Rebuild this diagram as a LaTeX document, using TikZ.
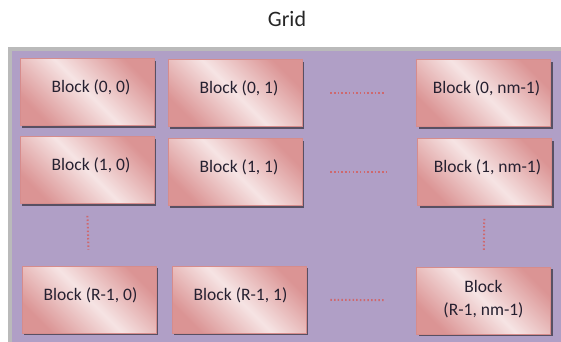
\documentclass[tikz,border=0pt]{standalone}
\usepackage{fontspec}
\setmainfont{Carlito}
\usepackage{tikz}
\usetikzlibrary{shadows}
\usepackage{xcolor}

\definecolor{gridfill}{RGB}{176,159,198}
\definecolor{gridedge}{RGB}{186,186,186}
\definecolor{blockdark}{RGB}{219,148,148}
\definecolor{blocklight}{RGB}{246,228,228}
\definecolor{blockline}{RGB}{214,140,140}
\definecolor{blocktext}{RGB}{38,32,48}
\definecolor{dotred}{RGB}{206,104,110}

\begin{document}
\begin{tikzpicture}[x=1pt,y=1pt,font=\fontsize{17.5}{20}\selectfont,
  block/.style={draw=blockline,line width=0.6pt,
    top color=blockdark,bottom color=blockdark,middle color=blocklight,shading angle=-45,
    minimum width=134pt,minimum height=67pt,inner sep=2pt,text depth=11pt,
    align=center,text=blocktext,
    drop shadow={shadow xshift=2pt,shadow yshift=-2pt,fill=black!55!gridfill,opacity=0.9}},
  dots/.style={dotred,line width=2pt,dash pattern=on 1.5pt off 2.2pt}]
\clip (0,0) rectangle (561,341);
% title and the grid frame
\node[font=\fontsize{22}{26}\selectfont,text=black!85] (title) at (287,322) {Grid};
\filldraw[fill=gridfill,draw=gridedge,line width=4pt] (10,292) rectangle (600,-20);
% row 0
\node[block] (b00) at (87,249) {\hspace{8pt}Block (0, 0)};
\node[block] (b01) at (235,248) {\hspace{8pt}Block (0, 1)};
\node[block] (b0n) at (483.5,248) {\hspace{6pt}Block (0, nm-1)};
% row 1
\node[block] (b10) at (87,171) {\hspace{8pt}Block (1, 0)};
\node[block] (b11) at (235,169) {\hspace{8pt}Block (1, 1)};
\node[block] (b1n) at (484.5,169) {\hspace{6pt}Block (1, nm-1)};
% row R-1
\node[block] (bR0) at (89,41.5) {\hspace{3pt}Block (R-1, 0)};
\node[block] (bR1) at (239,41.5) {\hspace{3pt}Block (R-1, 1)};
\node[block,text depth=6pt] (bRn) at (483.5,40.5) {Block\\[3pt] (R-1, nm-1)};
% dotted gaps
\draw[dots,shorten <=28pt,shorten >=31pt] (b01) -- (b0n);
\draw[dots,shorten <=28pt,shorten >=31pt] (b11) -- (b1n);
\draw[dots,shorten <=24pt,shorten >=31pt] (bR1) -- (bRn);
\draw[dots,shorten <=12pt,shorten >=16pt] (b10.south) -- (bR0.north);
\draw[dots,shorten <=13pt,shorten >=16pt] (b1n.south) -- (bRn.north);
\end{tikzpicture}
\end{document}
